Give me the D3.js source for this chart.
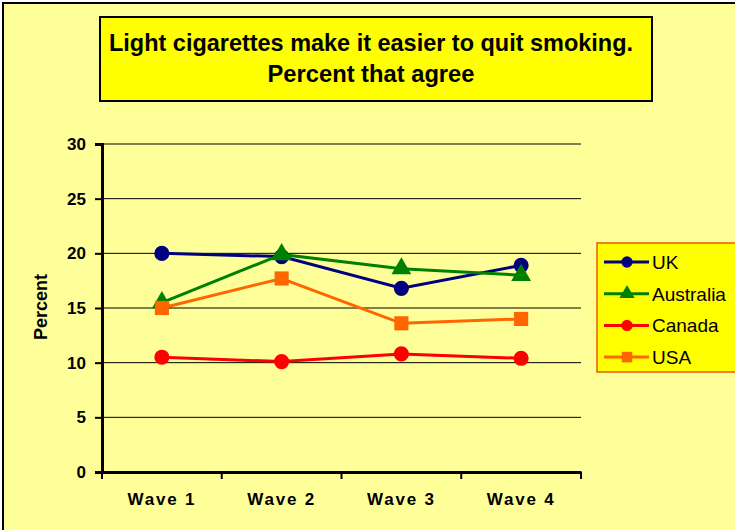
<!DOCTYPE html>
<html>
<head>
<meta charset="utf-8">
<script src="https://cdn.jsdelivr.net/npm/d3@7/dist/d3.min.js"></script>
<style>
  html, body { margin: 0; padding: 0; background: #fff; }
  svg { display: block; font-family: "Liberation Sans", Arial, sans-serif; }
</style>
</head>
<body>
<svg id="chart" width="735" height="530"></svg>
<script>
// Survey waves and agreement percentages by country
const waves = ["Wave 1", "Wave 2", "Wave 3", "Wave 4"];
const countries = ["UK", "Australia", "Canada", "USA"];
const ukValues = [20.0, 19.7, 16.8, 18.9];
const australiaValues = [15.5, 19.9, 18.6, 18.0];
const canadaValues = [10.5, 10.1, 10.8, 10.4];
const usaValues = [15.0, 17.7, 13.6, 14.0];
const yTicks = [0, 5, 10, 15, 20, 25, 30];
const titleLines = ["Light cigarettes make it easier to quit smoking.", "Percent that agree"];

const seriesColors = ["#000080", "#008000", "#FF0000", "#FF6600"];
const seriesSymbols = [d3.symbolCircle, d3.symbolTriangle, d3.symbolCircle, d3.symbolSquare];
const seriesValues = [ukValues, australiaValues, canadaValues, usaValues];

const series = countries.map((name, i) => ({
  name, color: seriesColors[i], symbol: seriesSymbols[i], values: seriesValues[i]
}));

const svg = d3.select("#chart");

// Chart background and frame
svg.append("rect").attr("x", 3).attr("y", 3).attr("width", 760).attr("height", 560)
  .attr("fill", "#FFFF99").attr("stroke", "#000").attr("stroke-width", 2);

// Title box (condensed bold heading)
const titleBox = svg.append("g");
titleBox.append("rect").attr("x", 100).attr("y", 17).attr("width", 552).attr("height", 84)
  .attr("fill", "#FFFF00").attr("stroke", "#000").attr("stroke-width", 2);
const titleWidths = [524, 207];
titleBox.selectAll("text").data(titleLines).join("text")
  .attr("x", 371).attr("y", (d, i) => 51 + i * 31)
  .attr("text-anchor", "middle").attr("font-weight", "bold").attr("font-size", 24)
  .attr("textLength", (d, i) => titleWidths[i]).attr("lengthAdjust", "spacingAndGlyphs")
  .text(d => d);

// Plot area
const plotLeft = 102, plotRight = 581, plotTop = 144, plotBottom = 472;
const x = d3.scaleBand().domain(waves).range([plotLeft, plotRight]);
const y = d3.scaleLinear().domain([0, 30]).range([plotBottom, plotTop]);

// Gridlines
svg.append("g").selectAll("line").data(yTicks.filter(t => t > 0)).join("line")
  .attr("x1", plotLeft).attr("x2", plotRight)
  .attr("y1", d => y(d)).attr("y2", d => y(d))
  .attr("stroke", "#000").attr("stroke-width", 1);

// Y axis
const yAxis = svg.append("g").attr("transform", `translate(${plotLeft},0)`)
  .call(d3.axisLeft(y).tickValues(yTicks).tickSize(7).tickPadding(9));
yAxis.select(".domain").attr("stroke-width", 3);
yAxis.selectAll(".tick line").attr("stroke-width", 2);
yAxis.selectAll("text").attr("font-size", 17).attr("font-weight", "bold")
  .attr("font-family", "Liberation Sans, Arial, sans-serif").attr("fill", "#000");

// X axis
const xAxis = svg.append("g").attr("transform", `translate(0,${plotBottom})`)
  .call(d3.axisBottom(x).tickSize(0).tickPadding(21));
xAxis.select(".domain").attr("stroke-width", 3);
xAxis.selectAll("text").attr("font-size", 17).attr("font-weight", "bold")
  .attr("letter-spacing", 1.8)
  .attr("font-family", "Liberation Sans, Arial, sans-serif").attr("fill", "#000");
// Category boundary ticks
const boundaries = waves.map(w => x(w)).concat([x(waves[waves.length - 1]) + x.bandwidth()]);
xAxis.selectAll(".bound").data(boundaries).join("line").attr("class", "bound")
  .attr("x1", d => d).attr("x2", d => d).attr("y1", 0).attr("y2", 7)
  .attr("stroke", "#000").attr("stroke-width", 2);

// Y axis title
svg.append("text").attr("transform", `translate(47,${(plotTop + plotBottom) / 2 - 1}) rotate(-90)`)
  .attr("text-anchor", "middle").attr("font-size", 18).attr("font-weight", "bold")
  .text("Percent");

// Series lines and markers
const cx = w => x(w) + x.bandwidth() / 2;
const line = d3.line().x((d, i) => cx(waves[i])).y(d => y(d));
const markerSize = s => s === d3.symbolSquare ? 200 : s === d3.symbolTriangle ? 170 : 180;

series.forEach(s => {
  const g = svg.append("g");
  g.append("path").datum(s.values).attr("d", line)
    .attr("fill", "none").attr("stroke", s.color).attr("stroke-width", 3);
  g.selectAll("path.m").data(s.values).join("path").attr("class", "m")
    .attr("transform", (d, i) => `translate(${cx(waves[i])},${y(d)})`)
    .attr("d", d3.symbol().type(s.symbol).size(markerSize(s.symbol)))
    .attr("fill", s.color);
});

// Legend
const legend = svg.append("g");
legend.append("rect").attr("x", 597).attr("y", 243).attr("width", 140).attr("height", 129)
  .attr("fill", "#FFFF00").attr("stroke", "#E65C00").attr("stroke-width", 1.5);
const items = legend.selectAll("g").data(series).join("g")
  .attr("transform", (d, i) => `translate(0,${262 + i * 31.7})`);
items.append("line").attr("x1", 604).attr("x2", 649)
  .attr("stroke", d => d.color).attr("stroke-width", 3);
items.append("path").attr("transform", "translate(627,0)")
  .attr("d", d => d3.symbol().type(d.symbol).size(d.symbol === d3.symbolSquare ? 110 : 100)())
  .attr("fill", d => d.color);
items.append("text").attr("x", 652).attr("y", 7).attr("font-size", 19)
  .text(d => d.name);
</script>
</body>
</html>
